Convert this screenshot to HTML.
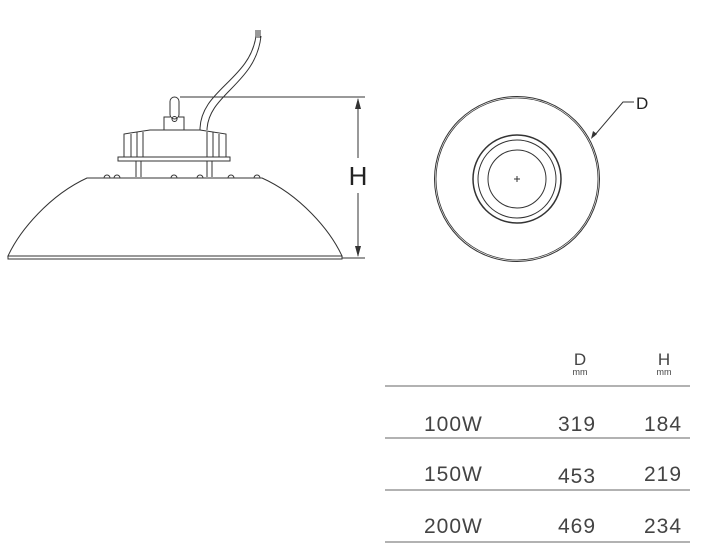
<!DOCTYPE html>
<html><head><style>
body{margin:0;background:#fff;}
svg{display:block;font-family:"Liberation Sans",sans-serif;}
</style></head><body>
<svg width="701" height="549" viewBox="0 0 701 549" xmlns="http://www.w3.org/2000/svg">
<g fill="none" stroke="#333" stroke-width="1">
<path d="M256 36 C250 80 200 90 200 130"/>
<path d="M261 36 C256 84 208 94 207 130"/>
<path d="M256 30 L256 38 M258 30 L258 38 M260 30 L260 38"/>
<rect x="170" y="97" width="9" height="22" rx="4.5"/>
<circle cx="174.5" cy="119" r="2.5"/>
<path d="M164 130 L164 117 L170 117 M179 117 L184 117 L184 130"/>
<path d="M124 157 L124 134 L150 130 L200 130 L226 134 L226 157"/>
<path d="M131 157 L131 134 M137 157 L137 132 M143 157 L143 132 M207 157 L207 132 M213 157 L213 132 M219 157 L219 134"/>
<rect x="118" y="157" width="112" height="4"/>
<path d="M136 161 L136 177 M141 161 L141 177 M207 161 L207 177 M212 161 L212 177"/>
<path d="M104 178 a3 3 0 0 1 6 0 M114 178 a3 3 0 0 1 6 0 M171 178 a3 3 0 0 1 6 0 M197 178 a3 3 0 0 1 6 0 M228 178 a3 3 0 0 1 6 0 M254 178 a3 3 0 0 1 6 0"/>
<path d="M87 178 L262 178 C300 195 330 230 342 256 L8 256 C20 230 50 195 87 178 Z"/>
<rect x="8" y="256" width="334" height="3"/>
<path d="M180 97 L365 97 M342 258 L365 258 M358 99 L358 158 M358 193 L358 256"/>
</g>
<path d="M358 98 L355 109 L361 109 Z M358 257 L355 246 L361 246 Z" fill="#333"/>
<text x="358" y="185" font-size="26" text-anchor="middle" fill="#222">H</text>
<g fill="none" stroke="#333">
<circle cx="517" cy="179" r="82.5"/>
<circle cx="517" cy="179" r="81" stroke-width="0.8"/>
<circle cx="517" cy="179" r="44" stroke-width="1.5"/>
<circle cx="517" cy="179" r="39"/>
<circle cx="517" cy="179" r="29"/>
<path d="M514 179 L520 179 M517 176 L517 182"/>
<path d="M594 136 L623 102 L634 102"/>
</g>
<path d="M591 139 L593 131 L597 134 Z" fill="#333"/>
<text x="636" y="109" font-size="17" fill="#222">D</text>
<g stroke="#999" stroke-width="1.5">
<path d="M385 386 L690 386 M385 438 L690 438 M385 490 L690 490 M385 542 L690 542"/>
</g>
<g fill="#444" text-anchor="middle">
<text x="580" y="365" font-size="17">D</text>
<text x="580" y="375" font-size="9">mm</text>
<text x="664" y="365" font-size="17">H</text>
<text x="664" y="375" font-size="9">mm</text>
</g>
<g fill="#444" font-size="21" letter-spacing="1">
<text x="424" y="431">100W</text>
<text x="424" y="481">150W</text>
<text x="424" y="533">200W</text>
<text x="558" y="431">319</text>
<text x="558" y="483">453</text>
<text x="558" y="533">469</text>
<text x="644" y="431">184</text>
<text x="644" y="481">219</text>
<text x="644" y="533">234</text>
</g>
</svg>
</body></html>
